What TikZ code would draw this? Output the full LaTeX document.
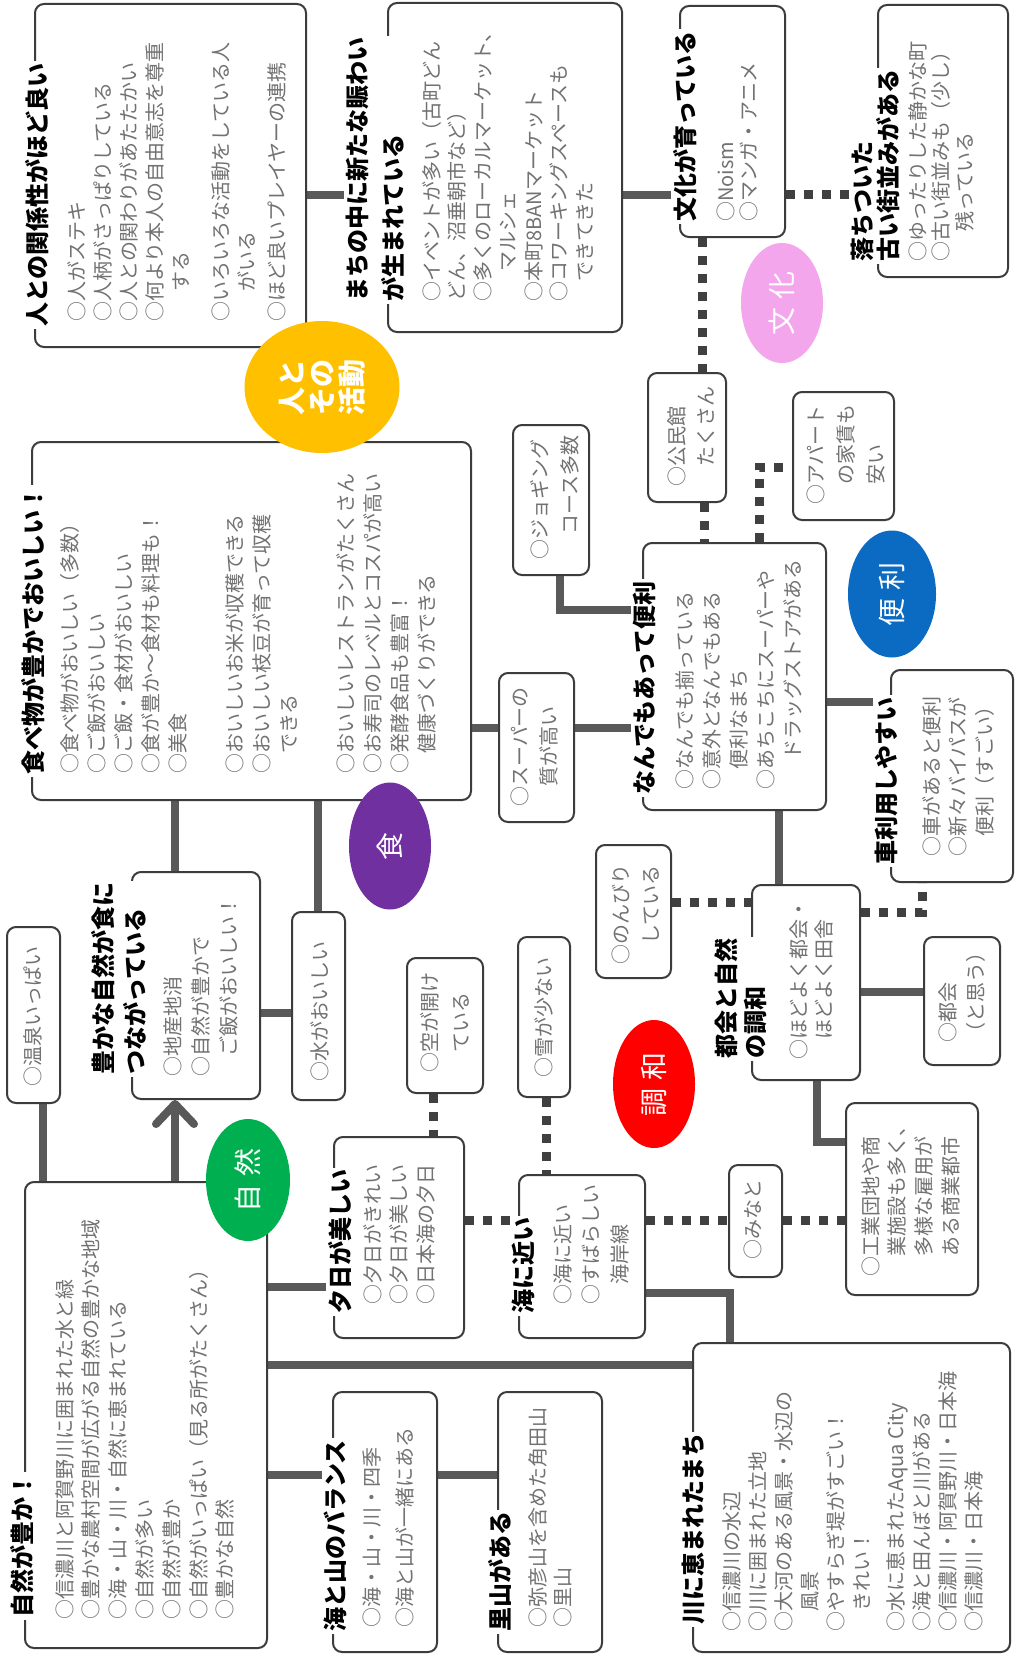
\documentclass[tikz,border=0pt]{standalone}
\usepackage{fontspec}
\setmainfont{Noto Sans CJK JP}
\usetikzlibrary{shapes.geometric,arrows.meta,fit}
\definecolor{linegray}{HTML}{595959}
\definecolor{dotgray}{HTML}{404040}
\definecolor{bordergray}{HTML}{3C3C3C}
\definecolor{bodygray}{HTML}{727272}
\definecolor{cyellow}{HTML}{FFC000}
\definecolor{cpink}{HTML}{F4A6EC}
\definecolor{cblue}{HTML}{0B6BC2}
\definecolor{cpurple}{HTML}{7030A0}
\definecolor{cred}{HTML}{FF0000}
\definecolor{cgreen}{HTML}{00B050}
\pgfdeclarelayer{back}
\pgfdeclarelayer{bg}
\pgfsetlayers{back,bg,main}
\begin{document}
\begin{tikzpicture}[x=1pt,y=-1pt,
  box/.style={draw=bordergray, line width=2pt, rounded corners=9pt, fill=white, inner sep=0pt},
  ttl/.style={rotate=90, anchor=west, fill=white, inner sep=2pt, align=left, text=black,
    font=\fontsize{24}{#1}\selectfont\bfseries},
  ttl/.default=30,
  body/.style={rotate=90, anchor=north west, inner sep=0pt, align=left, text=bodygray,
    font=\fontsize{20}{#1}\selectfont},
  body/.default=26,
  conn/.style={draw=linegray, line width=8pt},
  dots/.style={draw=dotgray, line width=9pt, dash pattern=on 9pt off 9pt},
  oval/.style={ellipse, rotate=90, inner sep=0pt, text=white, align=center,
    font=\fontsize{28}{30}\selectfont}
]
\begin{pgfonlayer}{back}
\fill[white] (0,0) rectangle (1017,1656);
\end{pgfonlayer}
\useasboundingbox (0,0) rectangle (1017,1656);

% ---------------- boxes ----------------
\node[box, fit={(35,4) (306,347)}] (A) {};
\node[box, fit={(388,3) (622,332)}] (B) {};
\node[box, fit={(680,6) (785,237)}] (C) {};
\node[box, fit={(878,5) (1008,277)}] (D) {};
\node[box, fit={(32,442) (471,800)}] (E) {};
\node[box, fit={(513,425) (589,575)}] (F) {};
\node[box, fit={(648,373) (726,502)}] (G) {};
\node[box, fit={(793,392) (894,520)}] (H) {};
\node[box, fit={(643,543) (826,810)}] (I) {};
\node[box, fit={(499,673) (574,822)}] (J) {};
\node[box, fit={(891,670) (1013,882)}] (K) {};
\node[box, fit={(596,845) (671,978)}] (L) {};
\node[box, fit={(752,885) (860,1080)}] (M) {};
\node[box, fit={(924,937) (1000,1065)}] (N) {};
\node[box, fit={(132,872) (260,1099)}] (O) {};
\node[box, fit={(292,912) (345,1100)}] (P) {};
\node[box, fit={(7,927) (60,1103)}] (Q) {};
\node[box, fit={(407,958) (483,1093)}] (R) {};
\node[box, fit={(518,937) (570,1097)}] (S) {};
\node[box, fit={(846,1103) (978,1295)}] (T) {};
\node[box, fit={(729,1165) (782,1277)}] (U) {};
\node[box, fit={(334,1137) (464,1338)}] (Y) {};
\node[box, fit={(519,1175) (645,1338)}] (Ui) {};
\node[box, fit={(25,1182) (267,1648)}] (Z) {};
\node[box, fit={(333,1392) (437,1652)}] (V) {};
\node[box, fit={(498,1392) (602,1652)}] (W) {};
\node[box, fit={(693,1343) (1010,1652)}] (X) {};

% ---------------- connectors ----------------
\begin{pgfonlayer}{bg}
\draw[conn] (A.east |- 0,195) -- (B.west |- 0,195);
\draw[conn] (B.east |- 0,195) -- (C.west |- 0,195);
\draw[dots] (C.east |- 0,195) -- (D.west |- 0,195);
\draw[dots] (C.south -| 702,0) -- (G.north -| 702,0);
\draw[conn] (E.east |- 0,728) -- (I.west |- 0,728);
\draw[conn] (F.south -| 560,0) |- (I.west |- 0,610);
\draw[dots] (G.south -| 704,0) -- (I.north -| 704,0);
\draw[dots] (I.north -| 759,0) |- (H.west |- 0,467);
\draw[conn] (I.east |- 0,702) -- (K.west |- 0,702);
\draw[conn] (I.south -| 779,0) -- (M.north -| 779,0);
\draw[dots] (L.east |- 0,902) -- (M.west |- 0,902);
\draw[dots] (M.east |- 0,912) -| (K.south -| 922,0);
\draw[conn] (M.east |- 0,992) -- (N.west |- 0,992);
\draw[conn] (M.south -| 817,0) |- (T.west |- 0,1142);
\draw[conn] (E.south -| 175,0) -- (O.north -| 175,0);
\draw[conn] (E.south -| 318,0) -- (P.north -| 318,0);
\draw[conn] (O.east |- 0,1013) -- (P.west |- 0,1013);
\draw[conn, -{Straight Barb[length=20pt, width=38pt, round]}] (Z.north -| 175,0) -- (O.south -| 175,0);
\draw[conn] (Q.south -| 43,0) -- (Z.north -| 43,0);
\draw[conn] (Z.east |- 0,1287) -- (Y.west |- 0,1287);
\draw[conn] (Z.east |- 0,1365) -- (X.west |- 0,1365);
\draw[conn] (Z.east |- 0,1475) -- (V.west |- 0,1475);
\draw[conn] (V.east |- 0,1475) -- (W.west |- 0,1475);
\draw[conn] (Ui.east |- 0,1293) -| (X.north -| 730,0);
\draw[dots] (R.south -| 433,0) -- (Y.north -| 433,0);
\draw[dots] (S.south -| 546,0) -- (Ui.north -| 546,0);
\draw[dots] (Y.east |- 0,1220) -- (Ui.west |- 0,1220);
\draw[dots] (Ui.east |- 0,1220) -- (U.west |- 0,1220);
\draw[dots] (U.east |- 0,1220) -- (T.west |- 0,1220);
\end{pgfonlayer}

% ---------------- titles ----------------
\node[ttl] (At) at (37,329) {人との関係性がほど良い};
\node[ttl=36] (Bt) at (375,304) {まちの中に新たな賑わい\\が生まれている};
\node[ttl] (Ct) at (685,224) {文化が育っている};
\node[ttl=26] (Dt) at (875,264) {落ちついた\\古い街並みがある};
\node[ttl] (Et) at (33,777) {食べ物が豊かでおいしい！};
\node[ttl] (It) at (644,797) {なんでもあって便利};
\node[ttl] (Kt) at (886,867) {車利用しやすい};
\node[ttl=29] (Mt) at (741,1061) {都会と自然\\の調和};
\node[ttl=32] (Ot) at (119,1077) {豊かな自然が食に\\つながっている};
\node[ttl] (Yt) at (340,1316) {夕日が美しい};
\node[ttl] (Uit) at (523,1316) {海に近い};
\node[ttl] (Vt) at (335,1634) {海と山のバランス};
\node[ttl] (Wt) at (500,1634) {里山がある};
\node[ttl] (Xt) at (693,1627) {川に恵まれたまち};
\node[ttl] (Zt) at (22,1620) {自然が豊か！};

% ---------------- body texts ----------------
\node[body=26] (Ab) at (67,322) {○人がステキ\\○人柄がさっぱりしている\\○人との関わりがあたたかい\\○何より本人の自由意志を尊重\\\hspace*{1.5em}する\\[14pt]○いろいろな活動をしている人\\\hspace*{1.5em}がいる\\[4pt]○ほど良いプレイヤーの連携};
\node[body=25.5] (Bb) at (422,302) {○イベントが多い（古町どん\\どん、沼垂朝市など）\\○多くのローカルマーケット、\\\hspace*{1.5em}マルシェ\\○本町8BANマーケット\\○コワーキングスペースも\\\hspace*{1em}できてきた};
\node[body=23] (Cb) at (717,222) {○Noism\\○マンガ・アニメ};
\node[body=23.5] (Db) at (908,262) {○ゆったりした静かな町\\○古い街並みも（少し）\\\hspace*{1.5em}残っている};
\node[body=27] (Eb) at (60,774) {○食べ物がおいしい（多数）\\○ご飯がおいしい\\○ご飯・食材がおいしい\\○食が豊か〜食材も料理も！\\○美食\\[30pt]○おいしいお米が収穫できる\\○おいしい枝豆が育って収穫\\\hspace*{1em}できる\\[30pt]○おいしいレストランがたくさん\\○お寿司のレベルとコスパが高い\\○発酵食品も豊富！\\\hspace*{1em}健康づくりができる};
\node[body=30] (Fb) at (530,560) {○ジョギング\\\hspace*{1.25em}コース多数};
\node[body=29] (Gb) at (667,487) {○公民館\\\hspace*{1em}たくさん};
\node[body=30] (Hb) at (807,505) {○アパート\\\hspace*{1em}の家賃も\\\hspace*{1em}安い};
\node[body=27] (Ib) at (675,790) {○なんでも揃っている\\○意外となんでもある\\\hspace*{1em}便利なまち\\○あちこちにスーパーや\\\hspace*{1.5em}ドラッグストアがある};
\node[body=29] (Jb) at (511,807) {○スーパーの\\\hspace*{1em}質が高い};
\node[body=26.5] (Kb) at (922,857) {○車があると便利\\○新々バイパスが\\\hspace*{1em}便利（すごい）};
\node[body=30] (Lb) at (612,965) {○のんびり\\\hspace*{1em}している};
\node[body=25] (Mb) at (790,1060) {○ほどよく都会・\\\hspace*{1em}ほどよく田舎};
\node[body=28] (Nb) at (939,1043) {○都会\\（と思う）};
\node[body=28] (Ob) at (163,1077) {○地産地消\\○自然が豊かで\\\hspace*{1em}ご飯がおいしい！};
\node[body] (Pb) at (310,1082) {○水がおいしい};
\node[body] (Qb) at (23,1087) {○温泉いっぱい};
\node[body=31] (Rb) at (420,1073) {○空が開け\\\hspace*{1em}ている};
\node[body] (Sb) at (534,1078) {○雪が少ない};
\node[body=26.7] (Tb) at (861,1277) {○工業団地や商\\\hspace*{1em}業施設も多く、\\\hspace*{1em}多様な雇用が\\\hspace*{1em}ある商業都市};
\node[body] (Ub) at (744,1260) {○みなと};
\node[body=26.5] (Yb) at (363,1305) {○夕日がきれい\\○夕日が美しい\\○日本海の夕日};
\node[body=28.5] (Uib) at (553,1305) {○海に近い\\○すばらしい\\\hspace*{1em}海岸線};
\node[body=33] (Vb) at (362,1628) {○海・山・川・四季\\○海と山が一緒にある};
\node[body=25] (Wb) at (528,1628) {○弥彦山を含めた角田山\\○里山};
\node[body=26] (Xb) at (722,1632) {○信濃川の水辺\\○川に囲まれた立地\\○大河のある風景・水辺の\\\hspace*{1em}風景\\○やすらぎ堤がすごい！\\\hspace*{1em}きれい！\\[8pt]○水に恵まれたAqua City\\○海と田んぼと川がある\\○信濃川・阿賀野川・日本海\\○信濃川・日本海};
\node[body=26.8] (Zb) at (55,1620) {○信濃川と阿賀野川に囲まれた水と緑\\○豊かな農村空間が広がる自然の豊かな地域\\○海・山・川・自然に恵まれている\\○自然が多い\\○自然が豊か\\○自然がいっぱい（見る所がたくさん）\\○豊かな自然};

% ---------------- category ovals ----------------
\node[oval, fill=cyellow, minimum width=132pt, minimum height=155pt, font=\fontsize{28}{30}\selectfont\bfseries] (eY) at (322,387) {人と\\その\\活動};
\node[oval, fill=cpink, minimum width=120pt, minimum height=82pt] (eC) at (782,303) {文\hspace{8pt}化};
\node[oval, fill=cblue, minimum width=127pt, minimum height=88pt] (eB) at (892,594) {便\hspace{8pt}利};
\node[oval, fill=cpurple, minimum width=127pt, minimum height=82pt] (eF) at (390,846) {食};
\node[oval, fill=cred, minimum width=128pt, minimum height=82pt] (eH) at (654,1084) {調\hspace{8pt}和};
\node[oval, fill=cgreen, minimum width=122pt, minimum height=84pt] (eN) at (248,1180) {自\hspace{8pt}然};
\end{tikzpicture}
\end{document}
